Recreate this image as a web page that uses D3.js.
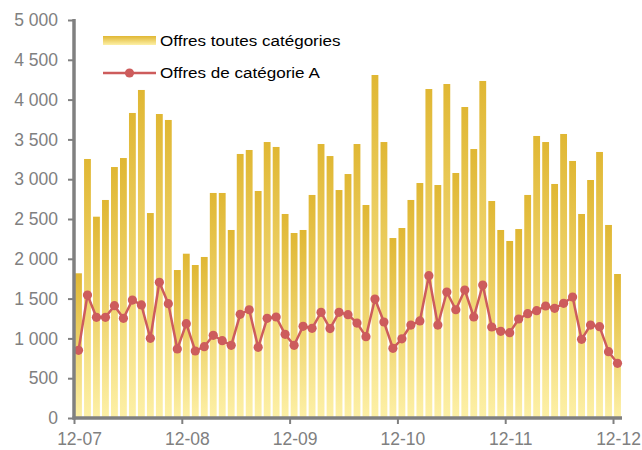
<!DOCTYPE html>
<html>
<head>
<meta charset="utf-8">
<script src="https://cdn.jsdelivr.net/npm/d3@7"></script>
<style>
  body { margin: 0; background: #fff; }
  text { font-family: "Liberation Sans", Arial, sans-serif; }
</style>
</head>
<body>
<div id="viz"></div>
<script>
const W = 642, H = 450;
const m = {l: 74, r: 20, t: 20, b: 32};

// months, Dec 2007 .. Dec 2012 (MM-YY)
const months = [
  "12-07","01-08","02-08","03-08","04-08","05-08","06-08","07-08","08-08","09-08","10-08","11-08",
  "12-08","01-09","02-09","03-09","04-09","05-09","06-09","07-09","08-09","09-09","10-09","11-09",
  "12-09","01-10","02-10","03-10","04-10","05-10","06-10","07-10","08-10","09-10","10-10","11-10",
  "12-10","01-11","02-11","03-11","04-11","05-11","06-11","07-11","08-11","09-11","10-11","11-11",
  "12-11","01-12","02-12","03-12","04-12","05-12","06-12","07-12","08-12","09-12","10-12","11-12",
  "12-12"
];
const tickLabels = ["12-07", "12-08", "12-09", "12-10", "12-11", "12-12"];

const allOffers = [1818, 3254, 2529, 2739, 3153, 3266, 3832, 4121, 2575, 3819, 3744, 1859,
  2064, 1922, 2023, 2827, 2827, 2362, 3317, 3367, 2852, 3467, 3405, 2563,
  2324, 2362, 2802, 3442, 3291, 2864, 3065, 3442, 2676, 4309, 3467, 2261,
  2387, 2739, 2952, 4133, 2927, 4196, 3078, 3907, 3379, 4234, 2726, 2362,
  2224, 2374, 2802, 3543, 3467, 2940, 3568, 3229, 2563, 2990, 3342, 2425,
  1809];
const catA = [850, 1545, 1265, 1265, 1411, 1252, 1482, 1420, 1001, 1705, 1436, 867,
  1185, 842, 896, 1039, 971, 913, 1303, 1360, 888, 1252, 1269, 1051,
  913, 1152, 1127, 1328, 1123, 1328, 1298, 1193, 1022, 1495, 1206, 875,
  995, 1168, 1219, 1788, 1168, 1583, 1360, 1608, 1269, 1671, 1143, 1089,
  1072, 1244, 1310, 1348, 1407, 1378, 1441, 1520, 988, 1168, 1147, 833,
  687];

const yTicks = [0, 500, 1000, 1500, 2000, 2500, 3000, 3500, 4000, 4500, 5000];
const seriesNames = ["Offres toutes catégories", "Offres de catégorie A"];

const gray = "#808080", red = "#CD5C5C";

const svg = d3.select('#viz').append('svg')
  .attr('width', W)
  .attr('height', H);

const defs = svg.append('defs');
const grad = defs.append('linearGradient')
  .attr('id', 'barGrad')
  .attr('x1', 0).attr('y1', 0).attr('x2', 0).attr('y2', 1);
grad.append('stop').attr('offset', '0%').attr('stop-color', '#E0B733');
grad.append('stop').attr('offset', '100%').attr('stop-color', '#FDF0A6');

const x = d3.scaleBand()
  .domain(months)
  .range([m.l, W - m.r])
  .paddingInner(0.24)
  .paddingOuter(0.12);

const y = d3.scaleLinear()
  .domain([0, 5000])
  .range([H - m.b, m.t]);

// bars
svg.selectAll('rect.bar')
  .data(allOffers)
  .enter()
  .append('rect')
  .attr('class', 'bar')
  .attr('x', (d, i) => x(months[i]))
  .attr('y', d => y(d))
  .attr('width', x.bandwidth())
  .attr('height', d => y(0) - y(d))
  .attr('fill', 'url(#barGrad)');

// category A line
const cx = (d, i) => x(months[i]) + x.bandwidth() / 2;
svg.append('path')
  .datum(catA)
  .attr('fill', 'none')
  .attr('stroke', red)
  .attr('stroke-width', 2.5)
  .attr('stroke-linejoin', 'round')
  .attr('d', d3.line().x(cx).y(d => y(d)));

svg.selectAll('circle.pt')
  .data(catA)
  .enter()
  .append('circle')
  .attr('class', 'pt')
  .attr('cx', cx)
  .attr('cy', d => y(d))
  .attr('r', 4.6)
  .attr('fill', red);

// y axis
const fmt = v => d3.format(',')(v).replace(/,/g, ' ');
const yAxis = svg.append('g')
  .attr('transform', `translate(${m.l},0)`)
  .call(d3.axisLeft(y).tickValues(yTicks).tickFormat(fmt).tickSize(6).tickPadding(10));

// x axis: ticks at month boundaries (left edge of each band)
const step = x.step();
const xEdge = lab => x(lab) - x.paddingOuter() * step;
const xAxisScale = d3.scalePoint().domain(tickLabels)
  .range([xEdge(tickLabels[0]), xEdge(tickLabels[tickLabels.length - 1])]);
const xAxis = svg.append('g')
  .attr('transform', `translate(0,${H - m.b})`)
  .call(d3.axisBottom(xAxisScale).tickSize(6).tickPadding(9));

svg.selectAll('.domain').remove();
[yAxis, xAxis].forEach(g => {
  g.selectAll('line').attr('stroke', gray).attr('stroke-width', 2);
  g.selectAll('text')
    .attr('fill', gray)
    .style('font-size', '17.5px')
    .style('font-family', '"Liberation Sans", Arial, sans-serif');
});
xAxis.selectAll('text').attr('x', 5);

svg.append('line')
  .attr('x1', m.l).attr('x2', m.l)
  .attr('y1', y(5000) - 1).attr('y2', y(0) + 1.5)
  .attr('stroke', gray).attr('stroke-width', 3.5);
svg.append('line')
  .attr('x1', m.l - 1.5).attr('x2', W - m.r)
  .attr('y1', y(0)).attr('y2', y(0))
  .attr('stroke', gray).attr('stroke-width', 3.5);

// legend
const lg = svg.append('g').attr('transform', 'translate(103,0)');
const lgGrad = defs.append('linearGradient')
  .attr('id', 'lgGrad')
  .attr('x1', 0).attr('y1', 0).attr('x2', 0).attr('y2', 1);
lgGrad.append('stop').attr('offset', '0%').attr('stop-color', '#E0B733');
lgGrad.append('stop').attr('offset', '100%').attr('stop-color', '#FDF0A6');
lg.append('rect')
  .attr('x', 0).attr('y', 36).attr('width', 53).attr('height', 9)
  .attr('fill', 'url(#lgGrad)');
lg.append('line')
  .attr('x1', 0).attr('x2', 53).attr('y1', 73).attr('y2', 73)
  .attr('stroke', red).attr('stroke-width', 2.5);
lg.append('circle')
  .attr('cx', 26.5).attr('cy', 73).attr('r', 4.6).attr('fill', red);
[41, 73].forEach((ly, k) => {
  lg.append('text')
    .attr('transform', `translate(57,${ly}) scale(1.1,1)`)
    .attr('dy', '0.35em')
    .style('font-size', '15.5px').attr('fill', '#000')
    .text(seriesNames[k]);
});
</script>
</body>
</html>
